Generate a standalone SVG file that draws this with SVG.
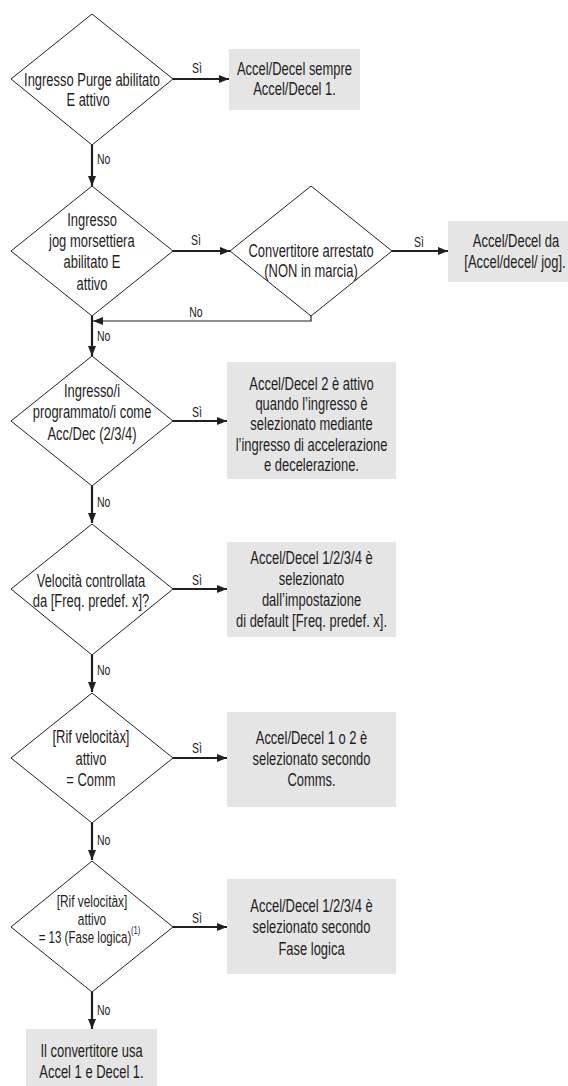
<svg xmlns="http://www.w3.org/2000/svg" width="568" height="1086" viewBox="0 0 568 1086">
<style>
text{font-family:"Liberation Sans",Arial,sans-serif;fill:#1f1c1d;transform:scaleX(0.7);transform-box:fill-box;transform-origin:center}
.t{font-size:18.5px;text-anchor:middle}
.m{font-size:17px;text-anchor:middle}
.s{font-size:15px;text-anchor:middle}
.lb{font-size:15px;transform-origin:left}
.sup{font-size:11px;transform-origin:left}
.d{fill:#fff;stroke:#231f20;stroke-width:1}
.b{fill:#e5e5e5;stroke:none}
.c{fill:none;stroke:#231f20;stroke-width:2.2}
.thin{fill:none;stroke:#231f20;stroke-width:1.2}
</style>
<defs>
<marker id="ah" markerUnits="userSpaceOnUse" markerWidth="10" markerHeight="10" viewBox="0 0 10 10" refX="10" refY="5" orient="auto">
<path d="M0,1 L10,5 L0,9 Z" fill="#231f20"/>
</marker>
</defs>
<g id="connectors">
<line class="c" x1="173" y1="79" x2="229" y2="79" marker-end="url(#ah)"/>
<line class="c" x1="92" y1="145" x2="92" y2="186" marker-end="url(#ah)"/>
<line class="c" x1="173" y1="251" x2="230" y2="251" marker-end="url(#ah)"/>
<line class="c" x1="392" y1="251" x2="448" y2="251" marker-end="url(#ah)"/>
<polyline class="thin" points="311,316 311,321 93,321" marker-end="url(#ah)"/>
<line class="c" x1="92" y1="316" x2="92" y2="356" marker-end="url(#ah)"/>
<line class="c" x1="173" y1="421" x2="227" y2="421" marker-end="url(#ah)"/>
<line class="c" x1="92" y1="486" x2="92" y2="523" marker-end="url(#ah)"/>
<line class="c" x1="173" y1="589" x2="227" y2="589" marker-end="url(#ah)"/>
<line class="c" x1="92" y1="655" x2="92" y2="692" marker-end="url(#ah)"/>
<line class="c" x1="173" y1="758" x2="227" y2="758" marker-end="url(#ah)"/>
<line class="c" x1="92" y1="823" x2="92" y2="860" marker-end="url(#ah)"/>
<line class="c" x1="173" y1="927" x2="227" y2="927" marker-end="url(#ah)"/>
<line class="c" x1="92" y1="992" x2="92" y2="1029" marker-end="url(#ah)"/>
<text class="s" x="197" y="73">Sì</text>
<text class="lb" x="97" y="164">No</text>
<text class="s" x="196" y="245">Sì</text>
<text class="s" x="419" y="247">Sì</text>
<text class="s" x="196" y="317">No</text>
<text class="lb" x="97" y="341">No</text>
<text class="s" x="197" y="417">Sì</text>
<text class="lb" x="97" y="507">No</text>
<text class="s" x="197" y="585">Sì</text>
<text class="lb" x="97" y="675">No</text>
<text class="s" x="197" y="753">Sì</text>
<text class="lb" x="97" y="845">No</text>
<text class="s" x="197" y="923">Sì</text>
<text class="lb" x="97" y="1015">No</text>
</g>
<g id="d1">
<polygon class="d" points="92,14 173,79 92,145 11,79"/>
<text class="t" x="92" y="86">Ingresso Purge abilitato</text>
<text class="t" x="88" y="106">E attivo</text>
</g>
<g id="b1">
<rect class="b" x="229" y="49" width="131" height="61"/>
<text class="t" x="294.5" y="75">Accel/Decel sempre</text>
<text class="t" x="294.5" y="95">Accel/Decel 1.</text>
</g>
<g id="d2">
<polygon class="d" points="92,186 173,251 92,316 11,251"/>
<text class="t" x="92" y="226">Ingresso</text>
<text class="t" x="92" y="247">jog morsettiera</text>
<text class="t" x="92" y="268">abilitato E</text>
<text class="t" x="92" y="290">attivo</text>
</g>
<g id="d3">
<polygon class="d" points="311,186 392,251 311,316 230,251"/>
<text class="t" x="311" y="257">Convertitore arrestato</text>
<text class="t" x="311" y="277">(NON in marcia)</text>
</g>
<g id="b2">
<rect class="b" x="448" y="221" width="122" height="61"/>
<text class="t" x="516" y="247">Accel/Decel da</text>
<text class="t" x="515" y="268">[Accel/decel/ jog].</text>
</g>
<g id="d4">
<polygon class="d" points="92,356 173,421 92,486 11,421"/>
<text class="t" x="92" y="397">Ingresso/i</text>
<text class="t" x="92" y="418">programmato/i come</text>
<text class="t" x="92" y="440">Acc/Dec (2/3/4)</text>
</g>
<g id="b3">
<rect class="b" x="227" y="362" width="169" height="117"/>
<text class="t" x="311.5" y="390">Accel/Decel 2 è attivo</text>
<text class="t" x="311.5" y="410">quando l’ingresso è</text>
<text class="t" x="311.5" y="430">selezionato mediante</text>
<text class="t" x="311.5" y="451">l’ingresso di accelerazione</text>
<text class="t" x="311.5" y="471">e decelerazione.</text>
</g>
<g id="d5">
<polygon class="d" points="92,524 173,589 92,655 11,589"/>
<text class="t" x="91" y="587">Velocità controllata</text>
<text class="t" x="91" y="607">da [Freq. predef. x]?</text>
</g>
<g id="b4">
<rect class="b" x="227" y="542" width="169" height="95"/>
<text class="t" x="311.5" y="564">Accel/Decel 1/2/3/4 è</text>
<text class="t" x="311.5" y="585">selezionato</text>
<text class="t" x="311.5" y="606">dall’impostazione</text>
<text class="t" x="311.5" y="627">di default [Freq. predef. x].</text>
</g>
<g id="d6">
<polygon class="d" points="92,693 173,758 92,823 11,758"/>
<text class="t" x="91" y="743">[Rif velocitàx]</text>
<text class="t" x="91" y="765">attivo</text>
<text class="t" x="91" y="786">= Comm</text>
</g>
<g id="b5">
<rect class="b" x="227" y="712" width="169" height="95"/>
<text class="t" x="311.5" y="744">Accel/Decel 1 o 2 è</text>
<text class="t" x="311.5" y="765">selezionato secondo</text>
<text class="t" x="311.5" y="786">Comms.</text>
</g>
<g id="d7">
<polygon class="d" points="92,861 173,927 92,992 11,927"/>
<text class="m" x="92" y="907">[Rif velocitàx]</text>
<text class="m" x="92" y="925">attivo</text>
<text class="m" x="85" y="943" style="font-size:16.5px">= 13 (Fase logica)</text>
<text class="sup" x="131" y="934">(1)</text>
</g>
<g id="b6">
<rect class="b" x="227" y="879" width="169" height="95"/>
<text class="t" x="311.5" y="912">Accel/Decel 1/2/3/4 è</text>
<text class="t" x="311.5" y="933">selezionato secondo</text>
<text class="t" x="311.5" y="955">Fase logica</text>
</g>
<g id="b7">
<rect class="b" x="26" y="1029" width="131" height="61"/>
<text class="t" x="91.5" y="1057">Il convertitore usa</text>
<text class="t" x="91.5" y="1078">Accel 1 e Decel 1.</text>
</g>
</svg>
